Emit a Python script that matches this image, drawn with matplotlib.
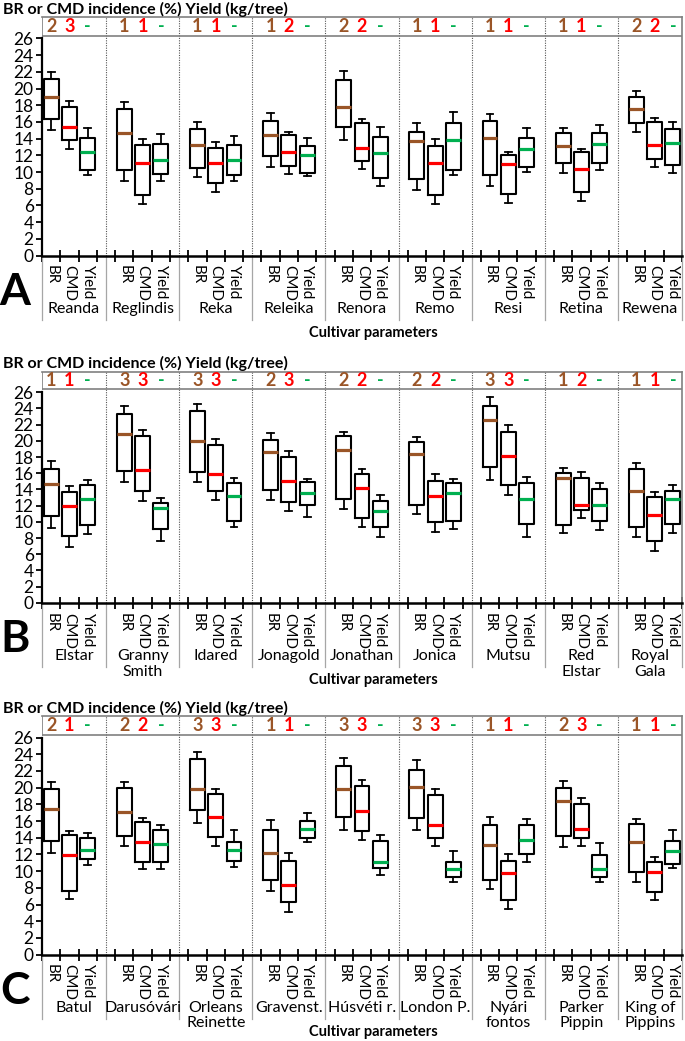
import numpy as np
import matplotlib.pyplot as plt

plt.rcParams['font.family'] = ['Lato', 'DejaVu Sans']

BROWN = '#9A5527'
RED = '#FF0000'
GREEN = '#00B050'
W, H = 685, 1041

# ---- data (low whisker, Q1, median, Q3, high whisker) ----
cult_a = ['Reanda', 'Reglindis', 'Reka', 'Releika', 'Renora', 'Remo', 'Resi', 'Retina', 'Rewena']
rank_br_a = ['2', '1', '1', '1', '2', '1', '1', '1', '2']
rank_cmd_a = ['3', '1', '1', '2', '2', '1', '1', '1', '2']
br_a = [[15.1, 16.4, 18.96, 21.1, 22.0], [8.9, 10.2, 14.64, 17.5, 18.36], [9.4, 10.5, 13.3, 15.2, 16.0],
        [10.6, 11.95, 14.44, 16.1, 17.1], [13.9, 15.35, 17.76, 21.0, 22.1], [7.8, 9.15, 13.72, 14.84, 15.92],
        [8.35, 9.7, 14.08, 16.1, 16.9], [9.95, 11.05, 13.16, 14.7, 15.24], [14.76, 15.9, 17.6, 19.04, 19.7]]
cmd_a = [[12.8, 13.9, 15.36, 17.8, 18.56], [6.2, 7.2, 11.1, 13.3, 14.0], [7.65, 8.7, 11.1, 12.9, 13.6],
         [9.75, 10.7, 12.4, 14.4, 14.76], [10.35, 11.35, 12.84, 15.9, 16.4], [6.2, 7.2, 11.04, 13.1, 13.96],
         [6.35, 7.4, 10.96, 12.0, 12.4], [6.5, 7.6, 10.36, 12.4, 12.8], [10.6, 11.55, 13.24, 16.0, 16.48]]
yld_a = [[9.65, 10.2, 12.44, 14.1, 15.3], [8.9, 9.8, 11.5, 13.4, 14.6], [8.9, 9.6, 11.5, 13.2, 14.3],
         [9.5, 9.9, 12.0, 13.1, 14.1], [8.35, 9.25, 12.32, 14.24, 15.4], [9.6, 10.25, 13.88, 15.92, 17.16],
         [10.0, 10.65, 12.72, 14.1, 15.3], [10.25, 11.1, 13.32, 14.64, 15.6], [9.9, 10.85, 13.5, 15.16, 16.0]]

cult_b = ['Elstar', 'Granny\nSmith', 'Idared', 'Jonagold', 'Jonathan', 'Jonica', 'Mutsu', 'Red\nElstar', 'Royal\nGala']
rank_br_b = ['1', '3', '3', '2', '2', '2', '3', '1', '1']
rank_cmd_b = ['1', '3', '3', '3', '2', '2', '3', '2', '1']
br_b = [[9.22, 10.67, 14.68, 16.54, 17.49], [14.88, 16.25, 20.83, 23.36, 24.3], [14.88, 16.17, 19.93, 23.64, 24.55],
        [12.65, 13.93, 18.6, 20.09, 21.0], [11.54, 12.82, 18.85, 20.59, 21.12], [10.96, 12.03, 18.36, 19.8, 20.46],
        [15.21, 16.79, 22.53, 24.3, 25.42], [8.6, 9.6, 15.42, 16.04, 16.66], [8.1, 9.39, 13.85, 16.5, 17.24]]
cmd_b = [[6.87, 8.31, 11.9, 13.64, 14.47], [12.57, 13.77, 16.37, 20.63, 21.29], [12.65, 13.85, 15.88, 19.55, 20.26],
         [11.37, 12.4, 15.0, 18.02, 18.73], [9.39, 10.5, 14.14, 15.96, 16.5], [8.69, 10.0, 13.19, 15.09, 15.92],
         [13.27, 14.51, 18.15, 21.08, 21.99], [10.42, 11.5, 12.07, 15.46, 16.12], [6.41, 7.69, 10.79, 13.1, 13.64]]
yld_b = [[8.52, 9.64, 12.78, 14.6, 15.21], [7.7, 9.14, 11.74, 12.36, 12.9], [9.35, 10.05, 13.19, 14.76, 15.46],
         [10.55, 12.12, 13.52, 14.97, 15.3], [8.1, 9.39, 11.29, 12.53, 13.27], [9.06, 10.17, 13.56, 14.84, 15.26],
         [8.1, 9.68, 12.86, 14.84, 15.59], [8.98, 10.17, 12.07, 14.0, 14.84], [8.6, 9.68, 12.86, 13.85, 14.6]]

cult_c = ['Batul', 'Darusóvári', 'Orleans\nReinette', 'Gravenst.', 'Húsvéti r.', 'London P.', 'Nyári\nfontos',
          'Parker\nPippin', 'King of\nPippins']
rank_br_c = ['2', '2', '3', '1', '3', '3', '1', '2', '1']
rank_cmd_c = ['1', '2', '3', '1', '3', '3', '1', '3', '1']
br_c = [[12.18, 13.61, 17.43, 19.9, 20.74], [13.01, 14.17, 17.04, 20.02, 20.74], [15.76, 17.31, 19.82, 23.45, 24.29],
        [7.59, 8.91, 12.18, 14.96, 16.16], [14.96, 16.48, 19.82, 22.61, 23.57], [14.96, 16.4, 20.14, 22.14, 23.29],
        [7.87, 8.91, 13.13, 15.56, 16.52], [12.93, 14.17, 18.39, 19.98, 20.82], [8.75, 9.86, 13.49, 15.6, 16.28]]
cmd_c = [[6.68, 7.67, 11.98, 14.33, 14.84], [10.26, 11.14, 13.53, 15.92, 16.36], [13.01, 14.13, 16.44, 19.27, 19.9],
         [5.12, 6.28, 8.39, 11.22, 12.18], [13.73, 14.76, 17.16, 20.26, 20.98], [13.01, 14.01, 15.52, 19.11, 19.9],
         [5.48, 6.52, 9.78, 11.26, 12.06], [12.97, 13.93, 15.04, 18.03, 18.75], [6.56, 7.47, 9.94, 11.1, 11.74]]
yld_c = [[10.74, 11.46, 12.53, 13.93, 14.6], [10.26, 11.14, 13.25, 14.96, 15.52], [10.54, 11.22, 12.53, 13.53, 14.96],
         [13.53, 13.97, 15.08, 16.04, 16.92], [9.55, 10.42, 11.1, 13.57, 14.29], [8.67, 9.27, 10.22, 11.14, 12.45],
         [11.14, 12.06, 13.73, 15.56, 16.28], [8.67, 9.31, 10.26, 11.94, 13.33], [10.38, 10.9, 12.37, 13.57, 14.92]]

params = ['BR', 'CMD', 'Yield']
YTOP = 28.55
STRIP_LO = 26.35

fig = plt.figure(figsize=(W / 100, H / 100), dpi=100)


def fx(px):
    return px / W


def fy(py):
    return 1 - py / H


def stats(rows):
    return [dict(whislo=r[0], q1=r[1], med=r[2], q3=r[3], whishi=r[4], fliers=[]) for r in rows]


def panel(zero_px, top_px, letter, names, rk_br, rk_cmd, br, cmd, yld):
    ax = fig.add_axes([fx(42), fy(zero_px), fx(640), (zero_px - top_px) / H])
    ppu = (zero_px - top_px) / YTOP  # pixels per data unit
    n = len(names)
    ncat = 4 * n - 1
    ax.set_xlim(0, ncat)
    ax.set_ylim(0, YTOP)

    # dotted group dividers and rank strip
    divs = [4 * g + 3.5 for g in range(n - 1)]
    for d in divs:
        ax.plot([d, d], [0, YTOP], ls=(0, (1, 1.2)), color='#555555', lw=0.8, zorder=1)
    ax.plot([0, ncat], [STRIP_LO, STRIP_LO], color='#808080', lw=1.2, zorder=1)
    ax.plot([0, 0], [STRIP_LO, YTOP], color='#808080', lw=1.2, zorder=1)

    # boxes
    for k, (series, col) in enumerate(zip([br, cmd, yld], [BROWN, RED, GREEN])):
        pos = [4 * g + k + 0.5 for g in range(n)]
        ax.bxp(stats(series), positions=pos, widths=0.82, capwidths=0.38, showfliers=False,
               manage_ticks=False,
               boxprops=dict(color='black', linewidth=1.5),
               whiskerprops=dict(color='black', linewidth=1.3),
               capprops=dict(color='black', linewidth=1.3),
               medianprops=dict(color=col, linewidth=2.3, solid_capstyle='butt'))

    # rank numbers
    for g in range(n):
        for k, (txt, col) in enumerate(zip([rk_br[g], rk_cmd[g], '-'], [BROWN, RED, GREEN])):
            ax.text(4 * g + k + 0.5, (STRIP_LO + YTOP) / 2, txt, color=col, fontsize=13,
                    ha='center', va='center', fontweight='bold')

    # axes styling
    for s in ['top', 'right']:
        ax.spines[s].set_color('#808080')
        ax.spines[s].set_linewidth(1.2)
    ax.spines['left'].set_bounds(0, 26)
    ax.spines['left'].set_linewidth(1.6)
    ax.spines['bottom'].set_linewidth(1.8)
    ax.set_yticks(np.arange(0, 27, 2))
    ax.tick_params(axis='y', direction='out', length=4, width=1.3, labelsize=12.5, pad=2)
    ax.set_xticks(np.arange(0, ncat + 1))
    ax.set_xticklabels([])
    ax.tick_params(axis='x', which='major', direction='inout', length=8, width=1.3)
    cpos = [4 * g + k + 0.5 for g in range(n) for k in range(3)]
    ax.set_xticks(cpos, minor=True)
    ax.set_xticklabels(params * n, minor=True, rotation=270, fontsize=11, va='top', ha='center')
    ax.tick_params(axis='x', which='minor', length=0, pad=7)

    # separator lines below axis and cultivar names
    sep_len = 64 / ppu
    for d in [0] + divs + [ncat]:
        ax.plot([d, d], [0, -sep_len], color='#A6A6A6', lw=0.9, clip_on=False)
    bounds = [0] + divs + [ncat]
    for g in range(n):
        c = (bounds[g] + bounds[g + 1]) / 2
        ax.text(c, -46 / ppu, names[g], ha='center', va='top', fontsize=11.5, linespacing=1.15)

    fig.text(fx(373), fy(zero_px + 77), 'Cultivar parameters', ha='center', va='center',
             fontsize=10.5, fontweight='bold')
    fig.text(fx(15), fy(zero_px + 36), letter, ha='center', va='center', fontsize=32, fontweight='bold')
    fig.text(fx(3), fy(top_px - 8), 'BR or CMD incidence (%) Yield (kg/tree)', ha='left', va='center',
             fontsize=11.5, fontweight='bold')
    return ax


panel(255.6, 17.2, 'A', cult_a, rank_br_a, rank_cmd_a, br_a, cmd_a, yld_a)
panel(602.9, 371.6, 'B', cult_b, rank_br_b, rank_cmd_b, br_b, cmd_b, yld_b)
panel(954.7, 716.3, 'C', cult_c, rank_br_c, rank_cmd_c, br_c, cmd_c, yld_c)

fig.savefig('out.png', dpi=100)
